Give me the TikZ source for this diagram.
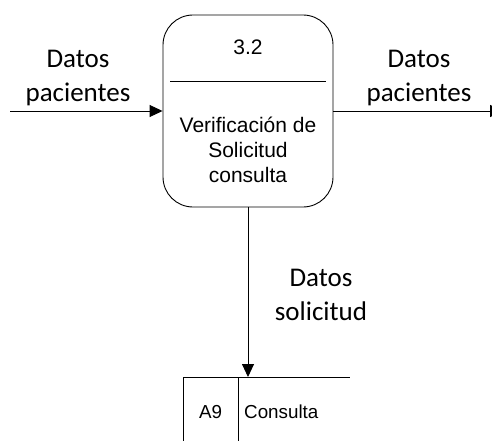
\documentclass[tikz,border=0pt]{standalone}
\usepackage{fontspec}
\setmainfont{Liberation Sans}
\newfontfamily\labelfont{Carlito}
\usetikzlibrary{arrows.meta}

\tikzset{
  flow/.style={line width=0.9pt,-{Triangle[length=13pt,width=12pt]}},
  flowlabel/.style={font=\labelfont\fontsize{27}{34}\selectfont,align=center,inner sep=0pt},
  proc/.style={draw,line width=0.9pt,rounded corners=30pt,minimum width=170pt,minimum height=192pt,inner sep=0pt},
  proctext/.style={font=\fontsize{21}{25}\selectfont,align=center,inner sep=0pt},
  storetext/.style={font=\fontsize{18.8}{22}\selectfont,inner sep=0pt}
}

\begin{document}
\begin{tikzpicture}[x=1pt,y=-1pt]
\useasboundingbox (0,0) rectangle (492,441);

\node[proc] (P32) at (248,111) {}; % process 3.2
\draw[line width=0.9pt] (170,81) -- (326,81); % divider
\node[proctext] (P32id) at (248,47) {3.2};
\node[proctext] (P32name) at (248,150) {Verificación de\\Solicitud\\consulta};

\coordinate (src) at (10,111);
\coordinate (dst) at (503,111);
\coordinate (A9top) at (248,377);

\draw[flow] (src) -- (P32.west); % entrada
\draw[flow] (P32.east) -- (dst); % salida
\draw[flow] (P32.south) -- (A9top); % al almacen

\node[flowlabel] (Lin) at (78,78) {Datos\\pacientes};
\node[flowlabel] (Lout) at (419,78) {Datos\\pacientes};
\node[flowlabel] (Lsol) at (321,295) {Datos\\solicitud};

% almacen A9
\draw[line width=0.9pt] (183,441) -- (183,377) -- (350,377);
\draw[line width=0.9pt] (238,377) -- (238,441);
\node[storetext] (A9id) at (210.5,412) {A9};
\node[storetext,anchor=west] (A9name) at (244,412) {Consulta};

\end{tikzpicture}
\end{document}
